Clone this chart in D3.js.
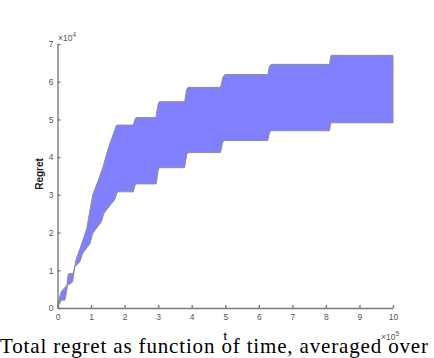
<!DOCTYPE html>
<html lang="en">
<head>
    <meta charset="UTF-8">
    <title>Total regret</title>
    <style>
        body { margin: 0; padding: 0; background: white; }
        svg { display: block; }
        .axis path, .axis line { stroke: #7a7a7a; stroke-width: 1.4; }
        .axis text { fill: #555; font-family: "Liberation Sans", Arial, sans-serif; font-size: 8.5px; }
        .band { fill: #8080ff; stroke: #8f8f8f; stroke-width: 1; }
    </style>
</head>
<body>
    <div id="chart"></div>

    <script src="https://d3js.org/d3.v7.min.js"></script>
    <script>
        // t in units of 1e5, regret in units of 1e4
        const upperT = [0, 0.05, 0.12, 0.2, 0.28, 0.32, 0.42, 0.47, 0.55, 0.7, 0.87, 1.05, 1.2, 1.36, 1.5, 1.76,
                        2.26, 2.31, 2.34, 2.93, 3.0, 3.03, 3.79, 3.85, 3.89, 4.86, 4.93, 4.99,
                        6.27, 6.32, 6.37, 8.11, 8.14, 8.16, 10];
        const upperRegret = [0, 0.25, 0.45, 0.52, 0.6, 0.9, 0.92, 0.92, 1.27, 1.65, 2.1, 3.0, 3.35, 3.75, 4.2, 4.85,
                        4.85, 5.0, 5.05, 5.05, 5.4, 5.47, 5.47, 5.8, 5.85, 5.85, 6.12, 6.19,
                        6.19, 6.42, 6.46, 6.46, 6.66, 6.70, 6.70];
        const lowerT = [0, 0.05, 0.12, 0.22, 0.27, 0.3, 0.4, 0.45, 0.52, 0.62, 0.67, 0.75, 0.97, 1.05, 1.31, 1.38, 1.71, 1.78,
                        2.26, 2.31, 2.34, 2.94, 3.0, 3.03, 3.79, 3.85, 3.89, 4.86, 4.92, 4.96,
                        6.27, 6.32, 6.37, 8.11, 8.14, 8.16, 10];
        const lowerRegret = [0, 0.1, 0.21, 0.21, 0.43, 0.61, 0.65, 0.7, 1.1, 1.18, 1.23, 1.45, 1.71, 1.98, 2.29, 2.51, 2.88, 3.08,
                        3.08, 3.25, 3.29, 3.29, 3.65, 3.72, 3.72, 4.07, 4.12, 4.12, 4.38, 4.44,
                        4.44, 4.66, 4.70, 4.70, 4.88, 4.91, 4.91];

        const xTicks = [0, 1, 2, 3, 4, 5, 6, 7, 8, 9, 10];
        const yTicks = [0, 1, 2, 3, 4, 5, 6, 7];
        const caption = "Total regret as function of time, averaged over";

        const width = 434, height = 358;
        const plot = { left: 57.5, right: 393, top: 44, bottom: 308 };

        const svg = d3.select("#chart").append("svg")
            .attr("width", width)
            .attr("height", height);

        const x = d3.scaleLinear().domain([0, 10]).range([plot.left, plot.right]);
        const y = d3.scaleLinear().domain([0, 7]).range([plot.bottom, plot.top]);

        // band polygon: upper edge forward, lower edge back
        const pts = upperT.map((t, i) => [t, upperRegret[i]])
            .concat(lowerT.map((t, i) => [t, lowerRegret[i]]).reverse());

        const line = d3.line()
            .x(d => x(d[0]))
            .y(d => y(d[1]))
            .curve(d3.curveLinearClosed);

        svg.append("path")
            .datum(pts)
            .attr("class", "band")
            .attr("d", line);

        // axes, ticks pointing inward
        svg.append("g")
            .attr("class", "axis")
            .attr("transform", `translate(0,${plot.bottom})`)
            .call(d3.axisBottom(x).tickValues(xTicks).tickFormat(d3.format("d"))
                .tickSizeInner(-3).tickSizeOuter(0).tickPadding(6));

        svg.append("g")
            .attr("class", "axis")
            .attr("transform", `translate(${plot.left},0)`)
            .call(d3.axisLeft(y).tickValues(yTicks).tickFormat(d3.format("d"))
                .tickSizeInner(-3).tickSizeOuter(0).tickPadding(4));

        // exponent labels
        const expo = (xPos, yPos, p, anchor) => {
            const t = svg.append("text")
                .attr("x", xPos).attr("y", yPos)
                .attr("text-anchor", anchor)
                .attr("fill", "#555")
                .style("font-family", "Liberation Sans, Arial, sans-serif")
                .style("font-size", "8.5px");
            t.append("tspan").text("\u00d710");
            t.append("tspan").attr("dy", -4).style("font-size", "6.5px").text(p);
        };
        expo(58, 41, "4", "start");
        expo(399, 340, "5", "end");

        // axis labels
        svg.append("text")
            .attr("transform", `translate(43,${(plot.top + plot.bottom) / 2 - 2}) rotate(-90)`)
            .attr("text-anchor", "middle")
            .style("font-family", "Liberation Sans, Arial, sans-serif")
            .style("font-size", "10px")
            .style("font-weight", "bold")
            .attr("fill", "#222")
            .text("Regret");

        svg.append("text")
            .attr("x", (plot.left + plot.right) / 2)
            .attr("y", 340)
            .attr("text-anchor", "middle")
            .style("font-family", "Liberation Sans, Arial, sans-serif")
            .style("font-size", "10px")
            .style("font-weight", "bold")
            .attr("fill", "#222")
            .text("t");

        // caption underneath
        svg.append("text")
            .attr("x", 0)
            .attr("y", 353)
            .attr("textLength", 428)
            .attr("lengthAdjust", "spacing")
            .style("font-family", "Liberation Serif, Times New Roman, serif")
            .style("font-size", "21px")
            .attr("fill", "#000")
            .text(caption);
    </script>
</body>
</html>
